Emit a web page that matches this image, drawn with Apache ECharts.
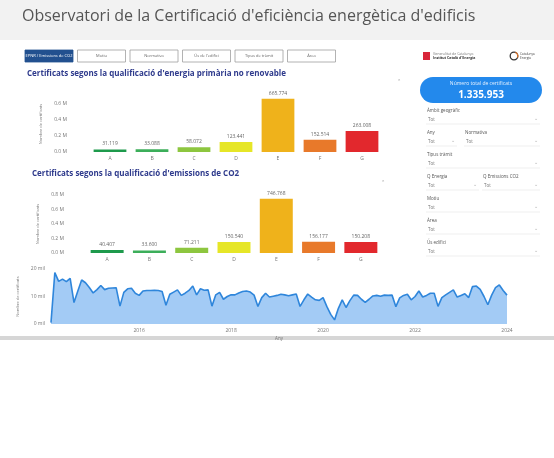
<!DOCTYPE html>
<html>
<head>
<meta charset="utf-8">
<script src="https://cdn.jsdelivr.net/npm/echarts@6/dist/echarts.min.js"></script>
<style>
html, body { margin: 0; padding: 0; background: #fff; }
#main { width: 554px; height: 458px; }
</style>
</head>
<body>
<div id="main"></div>
<script>
// qualificacions energètiques
const qualifications = ["A", "B", "C", "D", "E", "F", "G"];
const energyCounts = [31119, 33088, 58072, 123441, 665774, 152514, 263008];
const emissionCounts = [40407, 33600, 71211, 150540, 746768, 156177, 150208];
const totalCertificates = 1335953;

// certificats mensuals (milers), des de febrer 2014
const firstMonth = { year: 2014, month: 2 };
const monthlyThousands = [
  0.5, 18.7, 15.5, 16.3, 15.4, 16.6, 7.8, 12.0, 16.0, 15.0, 13.3, 11.3,
  12.5, 14.0, 12.5, 13.0, 13.1, 13.2, 6.5, 11.5, 12.8, 13.0, 11.2, 10.4,
  12.0, 12.2, 12.2, 12.3, 12.2, 11.8, 6.8, 10.8, 11.6, 12.4, 10.4, 11.2,
  12.2, 13.8, 10.6, 12.8, 12.3, 12.4, 6.5, 10.6, 11.5, 9.0, 10.0, 10.6,
  10.6, 11.3, 11.8, 12.0, 11.6, 10.5, 6.4, 9.6, 11.2, 9.8, 10.1, 10.4,
  10.8, 10.6, 10.3, 10.6, 10.9, 6.4, 8.8, 10.9, 9.8, 8.8, 8.6, 9.6,
  6.3, 3.5, 1.5, 5.7, 8.8, 6.0, 8.5, 10.5, 10.4, 9.0, 7.9, 9.0,
  10.2, 10.4, 10.1, 10.5, 10.4, 10.5, 6.3, 9.5, 10.4, 10.8, 8.8, 10.0,
  12.0, 9.8, 10.4, 11.2, 11.2, 6.4, 9.6, 10.6, 11.5, 12.4, 9.8, 10.4,
  11.0, 9.6, 13.6, 13.8, 12.6, 10.0, 7.0, 10.5, 13.2, 14.2, 12.2, 10.5
];
const yearTicks = ["2016", "2018", "2020", "2022", "2024"];

const buttonLabels = ["EPNR / Emissions de CO2", "Motiu", "Normativa", "Ús de l'edifici", "Tipus de tràmit", "Àrea"];

const ratingColors = ["#1e9a4c", "#3cae5a", "#8dc63f", "#e6e627", "#efb21b", "#e8792a", "#e2282d"];

const months = monthlyThousands.map((_, i) => {
  const m = firstMonth.month - 1 + i;
  const y = firstMonth.year + Math.floor(m / 12);
  return y + "-" + String((m % 12) + 1).padStart(2, "0");
});

function fmtThousands(n) {
  return String(n).replace(/\B(?=(\d{3})+(?!\d))/g, ".");
}

const FONT = "Open Sans";
const tiny = { fontSize: 5, color: "#777", fontFamily: FONT };

function barSeries(values, xi) {
  return {
    type: "bar",
    xAxisIndex: xi,
    yAxisIndex: xi,
    barWidth: "78%",
    data: values.map((v, i) => ({ value: v, itemStyle: { color: ratingColors[i] } })),
    label: {
      show: true,
      position: "top",
      distance: 3,
      fontSize: 5,
      color: "#666",
      fontFamily: FONT,
      formatter: (p) => fmtThousands(p.value)
    }
  };
}

function catAxis(gi) {
  return {
    type: "category",
    gridIndex: gi,
    data: qualifications,
    axisLine: { show: false },
    axisTick: { show: false },
    axisLabel: Object.assign({ margin: 4 }, tiny)
  };
}

function valAxis(gi, max) {
  return {
    type: "value",
    gridIndex: gi,
    min: 0,
    max: max,
    interval: 200000,
    splitLine: { show: false },
    axisLabel: Object.assign({
      margin: 22,
      showMaxLabel: max % 200000 === 0,
      formatter: (v) => (v / 1e6).toFixed(1) + " M"
    }, tiny),
    name: "Nombre de certificats",
    nameLocation: "middle",
    nameGap: 46,
    nameTextStyle: { fontSize: 4, color: "#777", fontFamily: FONT }
  };
}

// elements del tauler
const graphics = [
  { type: "rect", shape: { x: 0, y: 0, width: 554, height: 40 }, style: { fill: "#f2f2f2" } },
  { type: "rect", shape: { x: 0, y: 40, width: 554, height: 297 }, style: { fill: "#ffffff" } },
  { type: "rect", shape: { x: 0, y: 336, width: 554, height: 4 }, style: { fill: "#d6d6d6" } },
  { type: "text", left: 22, top: 8, style: { text: "Observatori de la Certificació d'eficiència energètica d'edificis", fontSize: 16, fill: "#555", fontFamily: FONT } },
  { type: "text", left: 27, top: 70, style: { text: "Certificats segons la qualificació d'energia primària no renovable", fontSize: 8, fontWeight: "bold", fill: "#2e3a8c", fontFamily: FONT } },
  { type: "text", left: 32, top: 170, style: { text: "Certificats segons la qualificació d'emissions de CO2", fontSize: 8, fontWeight: "bold", fill: "#2e3a8c", fontFamily: FONT } },
  { type: "text", left: 397, top: 79, style: { text: "⌃", fontSize: 5, fill: "#999" } },
  { type: "text", left: 381, top: 180, style: { text: "⌃", fontSize: 5, fill: "#999" } }
];

buttonLabels.forEach((lbl, i) => {
  const x = 25 + i * 52.5;
  const first = i === 0;
  graphics.push({
    type: "rect",
    shape: { x: x, y: 50, width: 48, height: 12 },
    style: { fill: first ? "#22508f" : "#fff", stroke: first ? "#22508f" : "#a0a0a0", lineWidth: 0.8 }
  });
  graphics.push({
    type: "text",
    x: x + 24, y: 56,
    style: { text: lbl, fontSize: 4, fill: first ? "#fff" : "#666", align: "center", verticalAlign: "middle", fontFamily: FONT }
  });
});

// logos
graphics.push(
  { type: "rect", shape: { x: 423, y: 52, width: 7, height: 8 }, style: { fill: "#d8263a" } },
  { type: "text", left: 433, top: 51.5, style: { text: "Generalitat de Catalunya", fontSize: 3.5, fill: "#777", fontFamily: FONT } },
  { type: "text", left: 433, top: 56, style: { text: "Institut Català d'Energia", fontSize: 3.5, fill: "#333", fontWeight: "bold", fontFamily: FONT } },
  { type: "circle", shape: { cx: 514, cy: 56, r: 3.8 }, style: { fill: "none", stroke: "#333", lineWidth: 1.3 } },
  { type: "arc", shape: { cx: 514, cy: 56, r: 3.8, startAngle: -1.2, endAngle: 0.4 }, style: { stroke: "#e8792a", lineWidth: 1.3, fill: "none" } },
  { type: "text", left: 520, top: 52, style: { text: "Catalunya\nEnergia", fontSize: 3.2, fill: "#444", fontFamily: FONT, lineHeight: 4 } }
);

// panell dret
graphics.push(
  { type: "rect", shape: { x: 420, y: 77, width: 122, height: 26, r: 13 }, style: { fill: "#2389ec" } },
  { type: "text", x: 481, y: 84, style: { text: "Número total de certificats", fontSize: 5, fill: "#e8f2ff", align: "center", verticalAlign: "middle", fontFamily: FONT } },
  { type: "text", x: 481, y: 95, style: { text: fmtThousands(totalCertificates), fontSize: 10, fill: "#fff", fontWeight: "bold", align: "center", verticalAlign: "middle", fontFamily: FONT } }
);

const filterRows = [
  [{ label: "Àmbit geogràfic", x: 427, w: 113 }],
  [{ label: "Any", x: 427, w: 30 }, { label: "Normativa", x: 465, w: 75 }],
  [{ label: "Tipus tràmit", x: 427, w: 113 }],
  [{ label: "Q Energia", x: 427, w: 52 }, { label: "Q Emissions CO2", x: 483, w: 57 }],
  [{ label: "Motiu", x: 427, w: 113 }],
  [{ label: "Àrea", x: 427, w: 113 }],
  [{ label: "Ús edifici", x: 427, w: 113 }]
];
filterRows.forEach((row, r) => {
  const y = 111 + r * 22;
  row.forEach((f) => {
    graphics.push(
      { type: "text", left: f.x, top: y - 2.5, style: { text: f.label, fontSize: 4.5, fill: "#555", fontFamily: FONT } },
      { type: "text", left: f.x + 1, top: y + 6, style: { text: "Tot", fontSize: 4.5, fill: "#777", fontFamily: FONT } },
      { type: "text", left: f.x + f.w - 6, top: y + 5.5, style: { text: "⌄", fontSize: 5, fill: "#aaa" } },
      { type: "line", shape: { x1: f.x - 1, y1: y + 13, x2: f.x + f.w, y2: y + 13 }, style: { stroke: "#e4e4e4", lineWidth: 0.6 } }
    );
  });
});

const chart = echarts.init(document.getElementById("main"), null, { renderer: "canvas" });

chart.setOption({
  animation: false,
  backgroundColor: "#fff",
  graphic: graphics,
  grid: [
    { left: 89, top: 96, width: 294, height: 56 },
    { left: 86, top: 195, width: 296, height: 58 },
    { left: 51, top: 269, width: 456, height: 55 }
  ],
  xAxis: [
    catAxis(0),
    catAxis(1),
    {
      type: "category",
      gridIndex: 2,
      data: months,
      boundaryGap: false,
      axisLine: { show: false },
      axisTick: { show: false },
      axisLabel: Object.assign({
        margin: 4,
        interval: (idx, val) => val.endsWith("-01") && yearTicks.includes(val.slice(0, 4)),
        formatter: (val) => val.slice(0, 4)
      }, tiny),
      name: "Any",
      nameLocation: "middle",
      nameGap: 12,
      nameTextStyle: { fontSize: 4.5, color: "#777", fontFamily: FONT }
    }
  ],
  yAxis: [
    valAxis(0, 700000),
    valAxis(1, 800000),
    {
      type: "value",
      gridIndex: 2,
      min: 0,
      max: 20,
      interval: 10,
      splitLine: { show: false },
      axisLabel: Object.assign({ margin: 6, formatter: (v) => v + " mil" }, tiny),
      name: "Nombre de certificats",
      nameLocation: "middle",
      nameGap: 22,
      nameTextStyle: { fontSize: 4, color: "#777", fontFamily: FONT }
    }
  ],
  series: [
    barSeries(energyCounts, 0),
    barSeries(emissionCounts, 1),
    {
      type: "line",
      xAxisIndex: 2,
      yAxisIndex: 2,
      data: monthlyThousands,
      showSymbol: false,
      lineStyle: { color: "#2f86db", width: 1.6 },
      areaStyle: { color: "#a3cbf5", opacity: 1 }
    }
  ]
});

window.onresize = function() {
  chart.resize();
};
</script>
</body>
</html>
